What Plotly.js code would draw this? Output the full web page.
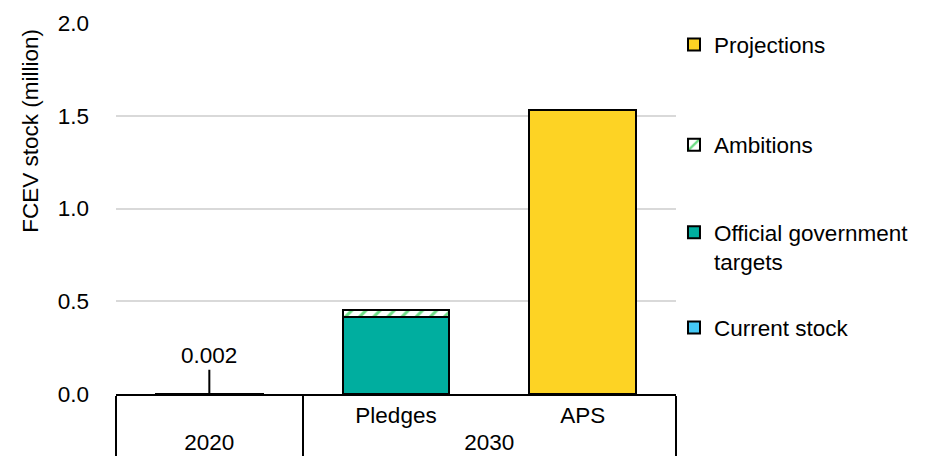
<!DOCTYPE html>
<html>
<head>
<meta charset="utf-8">
<script src="https://cdn.plot.ly/plotly-3.0.1.min.js"></script>
<style>html,body{margin:0;padding:0;background:#fff;}#chart{width:926px;height:459px;}</style>
</head>
<body>
<div id="chart"></div>
<script>
// Data
const outerCats = ["2020", "2030", "2030"];
const innerCats = ["", "Pledges", "APS"];
const currentStock = [0.002, null, null];
const officialTargets = [null, 0.415, null];
const ambitions = [null, 0.038, null];
const projections = [null, null, 1.53];
const yTicks = [0, 0.5, 1.0, 1.5, 2.0];
const stockLabel = "0.002";

const FONT = "Liberation Sans, Arial, sans-serif";
const FS = 22.5;
const x = [outerCats, innerCats];
const barW = 0.57;
const outline = {color: "#000", width: 2};

const traces = [
  {type: "bar", name: "Current stock", x: x, y: currentStock, width: barW,
   marker: {color: "#45C8F5", line: outline}, legend: "legend4", hoverinfo: "y"},
  {type: "bar", name: "Official government<br>targets", x: x, y: officialTargets, width: barW,
   marker: {color: "#00AE9F", line: outline}, legend: "legend3", hoverinfo: "y"},
  {type: "bar", name: "Ambitions", x: x, y: ambitions, width: barW,
   marker: {color: "#FFFFFF", line: outline,
            pattern: {shape: "/", fgcolor: "#6EDD85", bgcolor: "#FFFFFF", size: 10, solidity: 0.3}},
   legend: "legend2", hoverinfo: "y"},
  {type: "bar", name: "Projections", x: x, y: projections, width: barW,
   marker: {color: "#FDD324", line: outline}, legend: "legend", hoverinfo: "y"}
];

const legendBase = (yv) => ({
  x: 0.9964, xanchor: "left", y: yv, yanchor: "middle",
  font: {family: FONT, size: FS, color: "#000"}, bgcolor: "rgba(0,0,0,0)",
  valign: "top", itemclick: false
});

const layout = {
  width: 926, height: 459,
  margin: {l: 116, r: 248, t: 23, b: 65, pad: 0},
  paper_bgcolor: "#fff", plot_bgcolor: "#fff",
  font: {family: FONT, size: FS, color: "#000"},
  barmode: "stack",
  showlegend: true,
  legend: legendBase(0.941),
  legend2: legendBase(0.671),
  legend3: legendBase(0.396),
  legend4: legendBase(0.178),
  xaxis: {
    type: "multicategory",
    showline: true, linecolor: "#000", linewidth: 2,
    showdividers: true, dividercolor: "#000", dividerwidth: 2,
    tickfont: {family: FONT, size: FS, color: "#000"},
    ticks: "", showgrid: false, zeroline: false
  },
  yaxis: {
    range: [0, 2], tickvals: yTicks, tickformat: ".1f",
    showgrid: true, gridcolor: "#D9D9D9", gridwidth: 2,
    zeroline: false, showline: false, ticks: "",
    ticklabelstandoff: 26,
    tickfont: {family: FONT, size: FS, color: "#000"},
    fixedrange: true
  },
  annotations: [
    {xref: "x", yref: "y", x: 0, y: currentStock[0], text: stockLabel,
     showarrow: true, arrowhead: 0, arrowwidth: 2, arrowcolor: "#000",
     ax: 0, ay: -38, font: {family: FONT, size: FS, color: "#000"}},
    {xref: "paper", yref: "paper", x: -0.152, y: 0.709, xanchor: "center", yanchor: "middle",
     text: "FCEV stock (million)", textangle: -90, showarrow: false,
     font: {family: FONT, size: FS, color: "#000"}}
  ]
};

Plotly.newPlot("chart", traces, layout, {displayModeBar: false, staticPlot: true});
</script>
</body>
</html>
